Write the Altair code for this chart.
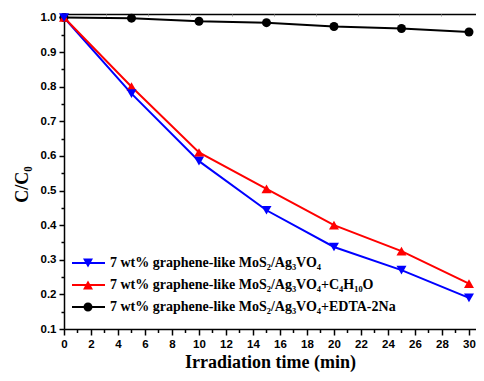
import altair as alt
import pandas as pd

# ---- data ----
time_min = [0, 5, 10, 15, 20, 25, 30]
blue_vals = [1.0, 0.78, 0.585, 0.443, 0.337, 0.27, 0.19]
red_vals = [1.0, 0.80, 0.61, 0.505, 0.40, 0.325, 0.231]
black_vals = [1.0, 0.998, 0.989, 0.985, 0.974, 0.968, 0.958]

series_labels = [
    "7 wt% graphene-like MoS\u2082/Ag\u2083VO\u2084",
    "7 wt% graphene-like MoS\u2082/Ag\u2083VO\u2084+C\u2084H\u2081\u2080O",
    "7 wt% graphene-like MoS\u2082/Ag\u2083VO\u2084+EDTA-2Na",
]
series_colors = ["#0000FF", "#FF0000", "#000000"]
marker_shapes = ["triangle-down", "triangle-up", "circle"]
legend_shapes = [
    "M-3.2,-0.2H3.4V0.2H-3.2Z M-1,-0.9L1,-0.9L0,0.9Z",
    "M-3.2,-0.2H3.4V0.2H-3.2Z M0,-0.9L1,0.9L-1,0.9Z",
    "M-3.2,-0.2H3.4V0.2H-3.2Z M-0.9,0A0.9,0.9 0 1,1 0.9,0A0.9,0.9 0 1,1 -0.9,0Z",
]

x_ticks = list(range(0, 31))
y_ticks = [0.1, 0.15, 0.2, 0.25, 0.3, 0.35, 0.4, 0.45, 0.5, 0.55, 0.6, 0.65,
           0.7, 0.75, 0.8, 0.85, 0.9, 0.95, 1.0]
top_ticks = [3.12, 6.25, 9.35, 12.45, 15.55, 18.65, 21.75, 24.8, 27.9]

rows = []
for lab, vals, order in zip(series_labels, [blue_vals, red_vals, black_vals], [3, 2, 1]):
    for t, v in zip(time_min, vals):
        rows.append({"t": t, "c": v, "series": lab, "z": order})
df = pd.DataFrame(rows)

xscale = alt.Scale(domain=[0, 30.52], nice=False, zero=False)
yscale = alt.Scale(domain=[0.1, 1.01], nice=False, zero=False)


def cscale():
    return alt.Scale(domain=series_labels, range=series_colors)


x_axis = alt.Axis(
    values=x_ticks,
    labelExpr="datum.value % 2 == 0 ? datum.label : ''",
    tickSize={"condition": {"test": "datum.value % 2 == 0", "value": 6}, "value": 3.5},
    tickColor="black", tickWidth=1.5, domainColor="black", domainWidth=1.5,
    labelFont="Liberation Sans", labelFontWeight="bold", labelFontSize=11.5,
    labelColor="black", labelPadding=3, labelOverlap=False, labelFlush=False,
    grid=False,
    title="Irradiation time (min)", titleFont="Liberation Serif", titleFontSize=18,
    titleFontWeight="bold", titleColor="black", titleY=33.5, titleBaseline="middle",
)
y_axis = alt.Axis(
    values=y_ticks,
    labelExpr="abs(datum.value*10 - round(datum.value*10)) < 0.001 ? format(datum.value, '.1f') : ''",
    tickSize={"condition": {"test": "abs(datum.value*10 - round(datum.value*10)) < 0.001", "value": 5}, "value": 3},
    tickColor="black", tickWidth=1.5, domainColor="black", domainWidth=1.5,
    labelFont="Liberation Sans", labelFontWeight="bold", labelFontSize=11.5,
    labelColor="black", labelPadding=3, labelOverlap=False, labelFlush=False,
    grid=False,
    title="C/C\u2080", titleFont="Liberation Serif", titleFontSize=18,
    titleFontWeight="bold", titleColor="black", titleAngle=270,
    titleX=-42, titleY=170, titleAlign="center", titleBaseline="middle",
)

y_enc = alt.Y("c:Q", scale=yscale, axis=y_axis)

lines = alt.Chart(df).mark_line(strokeWidth=2).encode(
    x=alt.X("t:Q", scale=xscale, axis=x_axis),
    y=y_enc,
    color=alt.Color("series:N", scale=cscale(), legend=None),
    detail="series:N",
)

points = alt.Chart(df).mark_point(filled=True, opacity=1, size=100).encode(
    x=alt.X("t:Q", scale=xscale, axis=None),
    y=y_enc,
    color=alt.Color("series:N", scale=cscale(), legend=None),
    shape=alt.Shape("series:N", scale=alt.Scale(domain=series_labels, range=marker_shapes), legend=None),
    size=alt.condition("indexof(datum.series, 'EDTA') >= 0", alt.value(81), alt.value(100)),
    order=alt.Order("z:Q"),
)

leg = alt.Legend(
    title=None, orient="none", legendX=17, legendY=242, padding=0,
    labelFont="Liberation Serif", labelFontWeight="bold", labelFontSize=14,
    labelColor="black", labelLimit=0, symbolSize=100, labelOffset=15,
    rowPadding=8, symbolStrokeWidth=0, symbolOpacity=1,
)

# legend + top frame line (no marks drawn: data filtered out)
legend_layer = alt.Chart(df).transform_filter("datum.t < 0").mark_point(filled=True, opacity=1).encode(
    x=alt.X("t:Q", scale=xscale, axis=alt.Axis(
        orient="top", labels=False, ticks=False, domain=True, grid=False,
        domainColor="black", domainWidth=1.5, title=None)),
    y=y_enc,
    color=alt.Color("series:N", scale=cscale(), legend=leg),
    shape=alt.Shape("series:N", scale=alt.Scale(domain=series_labels, range=legend_shapes), legend=leg),
)

# faint inward ticks on the top frame
top_tick_layer = alt.Chart(df).transform_filter("datum.t < 0").mark_point().encode(
    x=alt.X("t:Q", scale=xscale, axis=alt.Axis(
        orient="top", values=top_ticks, labels=False, domain=False, grid=False,
        tickSize=2, tickColor="#999999", tickWidth=1, offset=-2, title=None)),
    y=y_enc,
)

chart = alt.layer(lines, points, legend_layer, top_tick_layer).resolve_scale(
    shape="independent", color="independent"
).resolve_axis(x="independent").properties(
    width=412, height=315,
    autosize=alt.AutoSizeParams(type="none"),
    padding={"left": 56, "top": 6, "right": 0, "bottom": 44},
).configure_view(stroke=None).configure(background="white")

chart.save("out.html", embed_options={"renderer": "svg", "actions": False})
